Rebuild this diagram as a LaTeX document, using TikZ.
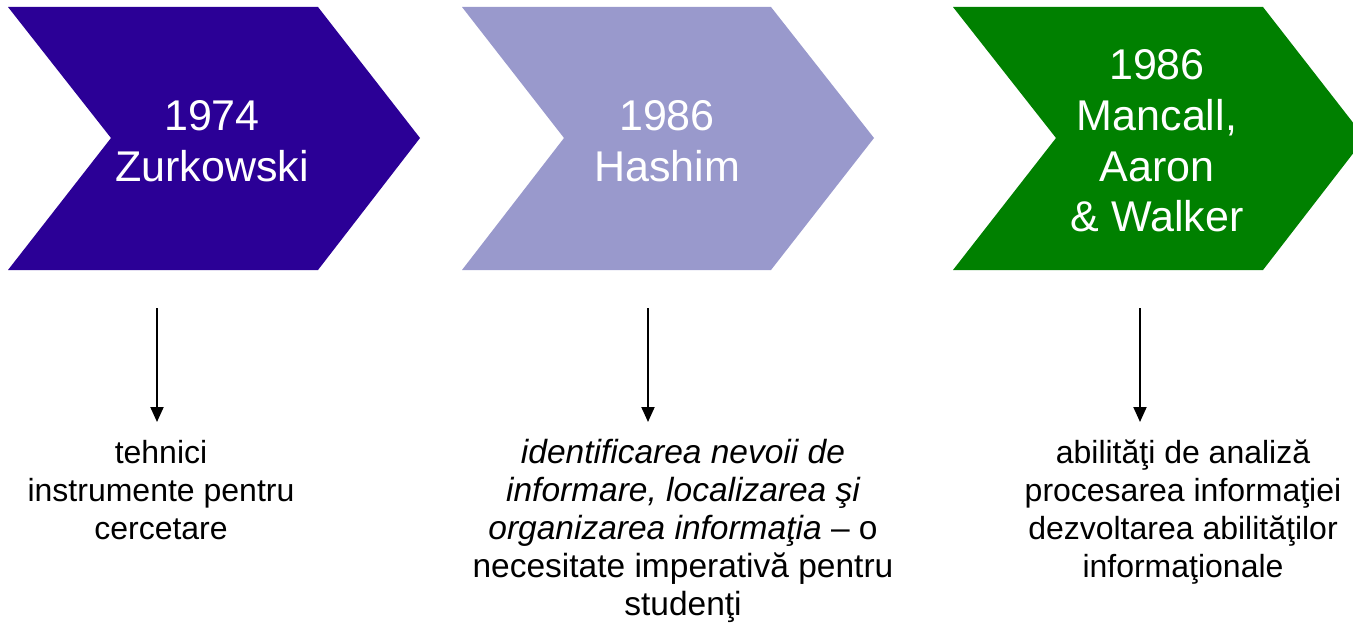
\documentclass[tikz,border=0pt]{standalone}
\usepackage{fontspec}
\setmainfont{Liberation Sans}
\usetikzlibrary{arrows.meta}
\definecolor{cIndigo}{RGB}{43,0,150}
\definecolor{cLavender}{RGB}{153,153,204}
\definecolor{cGreen}{RGB}{0,128,0}
\tikzset{
  chev/.style={draw=none},
  headtext/.style={text=white, align=center, inner sep=0pt, anchor=base,
    font=\fontsize{43}{51}\selectfont},
  bodytext/.style={text=black, align=center, inner sep=0pt, anchor=base,
    font=\fontsize{32}{38}\selectfont},
  downarrow/.style={line width=2pt, -{Triangle[width=13pt,length=15pt]}}
}
\begin{document}
\begin{tikzpicture}[x=1pt,y=-1pt]
\useasboundingbox (0,0) rectangle (1353,623);
\clip (0,0) rectangle (1353,623);
% chevrons
\fill[chev, cIndigo] (8,7) -- (318,7) -- (420,138) -- (318,270) -- (8,270) -- (111,138) -- cycle;
\fill[chev, cLavender] (462,7) -- (771,7) -- (874,138) -- (771,270) -- (462,270) -- (564,138) -- cycle;
\fill[chev, cGreen] (953,7) -- (1263,7) -- (1365,138) -- (1263,270) -- (953,270) -- (1056,138) -- cycle;
% headings
\node[headtext] (h1) at (212,182) {1974\\Zurkowski};
\node[headtext] (h2) at (667,182) {1986\\Hashim};
\node[headtext] (h3) at (1157,232) {1986\\Mancall,\\Aaron\\\& Walker};
% bodies
\node[bodytext] (b1) at (161,539) {tehnici\\instrumente pentru\\cercetare};
\node[bodytext, font=\fontsize{33.5}{38}\selectfont] (b2) at (683,615) {\itshape identificarea nevoii de\\\itshape informare, localizarea şi\\\itshape organizarea informaţia \upshape – o\\necesitate imperativă pentru\\studenţi};
\node[bodytext] (b3) at (1183,577) {abilităţi de analiză\\procesarea informaţiei\\dezvoltarea abilităţilor\\informaţionale};
% arrows
\coordinate (a1s) at (157,308); \coordinate (a1e) at (157,422);
\coordinate (a2s) at (648,308); \coordinate (a2e) at (648,422);
\coordinate (a3s) at (1140,308); \coordinate (a3e) at (1140,422);
\draw[downarrow] (a1s) -- (a1e);
\draw[downarrow] (a2s) -- (a2e);
\draw[downarrow] (a3s) -- (a3e);
\end{tikzpicture}
\end{document}
